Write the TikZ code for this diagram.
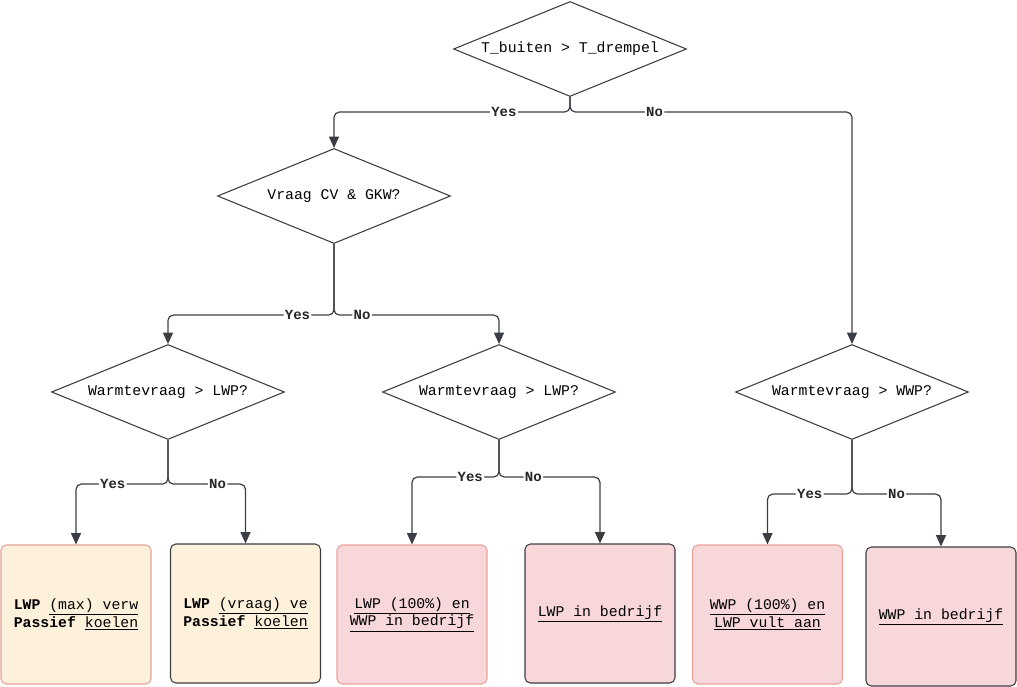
\documentclass[tikz,border=0pt]{standalone}
\usepackage{fontspec}
\setmonofont{Liberation Mono}
\usetikzlibrary{shapes.geometric, arrows.meta, positioning, calc}
\definecolor{linec}{HTML}{3A3D44}
\definecolor{cream}{HTML}{FEF1DB}
\definecolor{rose}{HTML}{F8D7DA}
\definecolor{salmon}{HTML}{E8A29A}

\begin{document}
\begin{tikzpicture}[
  x=0.75pt, y=-0.75pt,
  font=\ttfamily\fontsize{11.1}{12}\selectfont,
  q/.style={diamond, draw=linec, line width=0.8pt, aspect=2.45, inner sep=0pt, minimum width=174.75pt, minimum height=71.25pt},
  res/.style={draw, rounded corners=4pt, line width=0.8pt, minimum width=112.5pt, minimum height=104.25pt, align=center},
  warm/.style={res, fill=cream},
  cool/.style={res, fill=rose},
  soft/.style={draw=salmon},
  hard/.style={draw=linec},
  lbl/.style={fill=white, inner sep=1pt, text=black!85, font=\ttfamily\bfseries\fontsize{10.5}{12}\selectfont},
  arrow/.style={-{Triangle[length=8.5pt,width=7.5pt]}, line width=0.9pt, draw=linec, rounded corners=4pt}
]
\useasboundingbox (0,0) rectangle (1017,686);

% Decisions
\node[q] (top) at (570,49) {T\_buiten > T\_drempel};
\node[q] (vraag) at (334,196) {Vraag CV \& GKW?};
\node[q] (lwpA) at (168,392) {Warmtevraag > LWP?};
\node[q] (lwpB) at (499,392) {Warmtevraag > LWP?};
\node[q] (wwp) at (852,392) {Warmtevraag > WWP?};

% Outcomes
\node[warm, soft] (r1) at (76,614.5) {\textbf{LWP} \underline{(max) verw}\\\textbf{Passief} \underline{koelen}};
\node[warm, hard] (r2) at (245.5,613.5) {\textbf{LWP} \underline{(vraag) ve}\\\textbf{Passief} \underline{koelen}};
\node[cool, soft] (r3) at (412,614.5) {\underline{LWP (100\%) en}\\\underline{WWP in bedrijf}};
\node[cool, hard] (r4) at (600,613.5) {\underline{LWP in bedrijf}};
\node[cool, soft] (r5) at (767.5,614.5) {\underline{WWP (100\%) en}\\\underline{LWP vult aan}};
\node[cool, hard] (r6) at (941,616.5) {\underline{WWP in bedrijf}};

% Arrows
\draw[arrow] (top.south) -- ++(0,15) -| node[lbl, pos=0.14] {Yes} (vraag.north);
\draw[arrow] (top.south) -- ++(0,15) -| node[lbl, pos=0.15] {No} (wwp.north);
\draw[arrow] (vraag.south) -- ++(0,71) -| node[lbl, pos=0.11] {Yes} (lwpA.north);
\draw[arrow] (vraag.south) -- ++(0,71) -| node[lbl, pos=0.085] {No} (lwpB.north);
\draw[arrow] (lwpA.south) -- ++(0,44) -| node[lbl, pos=0.30] {Yes} (r1.north);
\draw[arrow] (lwpA.south) -- ++(0,44) -| node[lbl, pos=0.32] {No} (r2.north);
\draw[arrow] (lwpB.south) -- ++(0,37) -| node[lbl, pos=0.165] {Yes} (r3.north);
\draw[arrow] (lwpB.south) -- ++(0,37) -| node[lbl, pos=0.17] {No} (r4.north);
\draw[arrow] (wwp.south) -- ++(0,54) -| node[lbl, pos=0.25] {Yes} (r5.north);
\draw[arrow] (wwp.south) -- ++(0,54) -| node[lbl, pos=0.25] {No} (r6.north);

\end{tikzpicture}
\end{document}
